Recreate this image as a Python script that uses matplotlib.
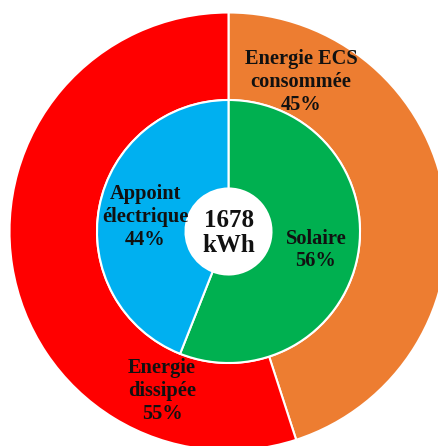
import matplotlib
matplotlib.use("Agg")
import matplotlib.pyplot as plt

# outer ring: energy balance
outer_labels = ["Energie ECS\nconsommée", "Energie\ndissipée"]
outer_values = [45, 55]
outer_colors = ["#ED7D31", "#FF0000"]

# inner ring: energy sources
inner_labels = ["Solaire", "Appoint\nélectrique"]
inner_values = [56, 44]
inner_colors = ["#00B050", "#00B0F0"]

center_text = "1678\nkWh"

plt.rcParams['font.family'] = ['Liberation Serif', 'DejaVu Serif']

fig = plt.figure(figsize=(4.39, 4.46), dpi=100)
ax = fig.add_axes([0, 0, 1, 1])

# work in pixel-like units so the ring can run off the image edge
cx, cy = 228.5, 446 - 231.5
r_out, r_mid, r_in = 219, 131.5, 43

ax.pie(outer_values, colors=outer_colors, radius=r_out, startangle=90,
       counterclock=False, center=(0, 0),
       wedgeprops=dict(width=r_out - r_mid, edgecolor="white", linewidth=1.5))
ax.pie(inner_values, colors=inner_colors, radius=r_mid, startangle=90,
       counterclock=False, center=(0, 0),
       wedgeprops=dict(width=r_mid - r_in, edgecolor="white", linewidth=1.5))

ax.set_xlim(-cx, 439 - cx)
ax.set_ylim(-cy, 446 - cy)
ax.set_aspect("equal")
ax.axis("off")

def lab(px, py, s, size=14.7, ls=1.17):
    ax.text(px - cx, (446 - py) - cy, s, ha="center", va="center",
            fontsize=size, fontweight="bold", color="#111111", linespacing=ls)

lab(301, 82, f"{outer_labels[0]}\n{outer_values[0]}%")
lab(162, 391, f"{outer_labels[1]}\n{outer_values[1]}%")
lab(316, 250, f"{inner_labels[0]}\n{inner_values[0]}%")
lab(145, 217, f"{inner_labels[1]}\n{inner_values[1]}%")
lab(229, 233, center_text, size=18, ls=1.1)

fig.savefig("out.png", dpi=100)
